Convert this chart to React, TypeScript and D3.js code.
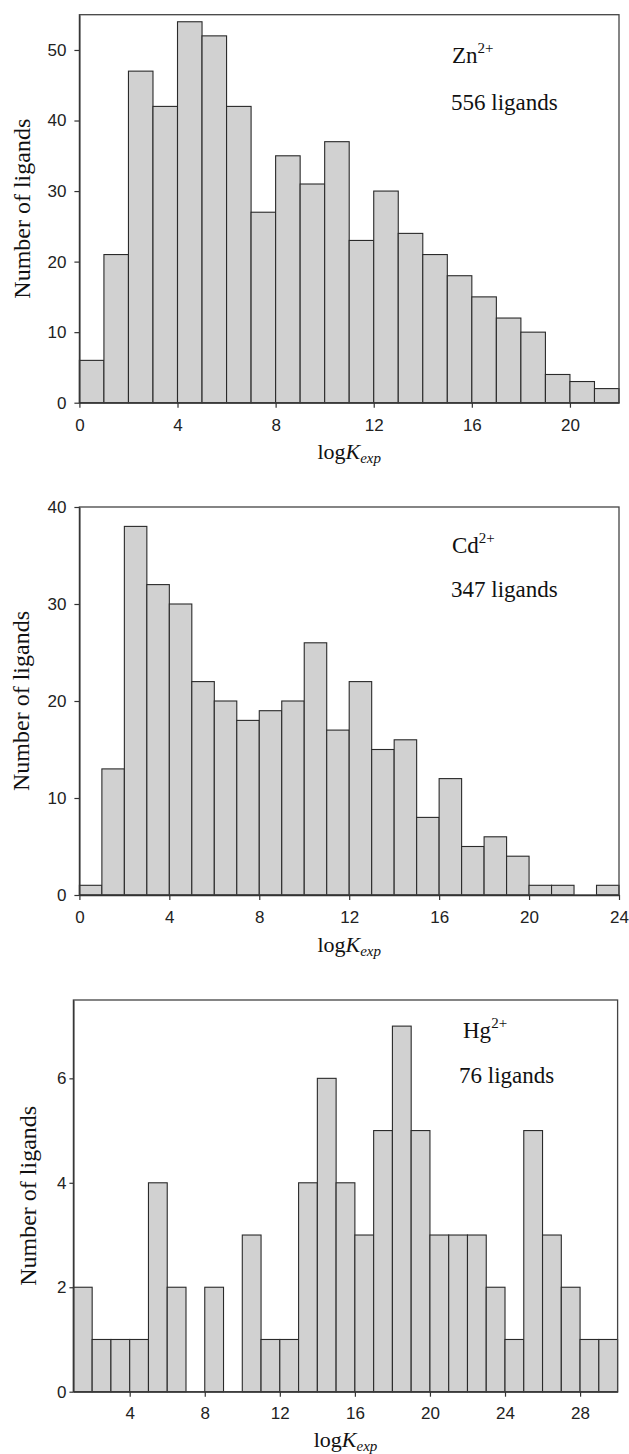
import React, { useEffect, useRef } from "react";
import * as d3 from "d3";

// Histogram counts per unit bin of logK_exp
const znCounts = [6, 21, 47, 42, 54, 52, 42, 27, 35, 31, 37, 23, 30, 24, 21, 18, 15, 12, 10, 4, 3, 2];
const cdCounts = [1, 13, 38, 32, 30, 22, 20, 18, 19, 20, 26, 17, 22, 15, 16, 8, 12, 5, 6, 4, 1, 1, 0, 1];
const hgCounts = [2, 1, 1, 1, 4, 2, 0, 2, 0, 3, 1, 1, 4, 6, 4, 3, 5, 7, 5, 3, 3, 3, 2, 1, 5, 3, 2, 1, 1];

const znXTicks = [0, 4, 8, 12, 16, 20];
const cdXTicks = [0, 4, 8, 12, 16, 20, 24];
const hgXTicks = [4, 8, 12, 16, 20, 24, 28];
const znYTicks = [0, 10, 20, 30, 40, 50];
const cdYTicks = [0, 10, 20, 30, 40];
const hgYTicks = [0, 2, 4, 6];

const ions = ["Zn", "Cd", "Hg"];
const ligandLabels = ["556 ligands", "347 ligands", "76 ligands"];

const W = 629;
const H = 1454;

interface Layout {
  left: number; right: number; top: number; bottom: number;
  xDomain: [number, number]; yDomain: [number, number]; binStart: number;
  ionX: number; ionY: number; ligX: number; ligY: number; ytitleX: number; xtitleY: number;
  yPad: number; xPad: number;
}

const layouts: Layout[] = [
  { left: 79.4, right: 619, top: 14.7, bottom: 402.7, xDomain: [0, 22], yDomain: [0, 55], binStart: 0,
    ionX: 452, ionY: 63, ligX: 451, ligY: 110, ytitleX: 30, xtitleY: 459, yPad: 8, xPad: 11 },
  { left: 79.4, right: 619, top: 507, bottom: 895, xDomain: [0, 24], yDomain: [0, 40], binStart: 0,
    ionX: 452, ionY: 553, ligX: 451, ligY: 597, ytitleX: 29, xtitleY: 952, yPad: 8, xPad: 11 },
  { left: 73.4, right: 617.6, top: 1000, bottom: 1391.7, xDomain: [1, 30], yDomain: [0, 7.5], binStart: 1,
    ionX: 463, ionY: 1038, ligX: 459, ligY: 1083, ytitleX: 36, xtitleY: 1447, yPad: 3, xPad: 10 },
];

const countsList = [znCounts, cdCounts, hgCounts];
const xTicksList = [znXTicks, cdXTicks, hgXTicks];
const yTicksList = [znYTicks, cdYTicks, hgYTicks];

export default function App() {
  const ref = useRef<SVGSVGElement | null>(null);

  useEffect(() => {
    const svg = d3.select(ref.current);
    svg.selectAll("*").remove();
    const serif = "'Liberation Serif', 'Times New Roman', serif";
    const sans = "'Liberation Sans', Arial, sans-serif";

    layouts.forEach((L, i) => {
      const counts = countsList[i];
      const x = d3.scaleLinear().domain(L.xDomain).range([L.left, L.right]);
      const y = d3.scaleLinear().domain(L.yDomain).range([L.bottom, L.top]);
      const g = svg.append("g");

      const bins = counts.map((c, k) => ({ x0: L.binStart + k, x1: L.binStart + k + 1, c }));
      g.selectAll("rect.bar")
        .data(bins.filter((b) => b.c > 0))
        .enter()
        .append("rect")
        .attr("class", "bar")
        .attr("x", (b) => x(b.x0))
        .attr("y", (b) => y(b.c))
        .attr("width", (b) => x(b.x1) - x(b.x0))
        .attr("height", (b) => y(0) - y(b.c))
        .attr("fill", "#d1d1d1")
        .attr("stroke", "#2a2a2a")
        .attr("stroke-width", 1.1);

      // frame
      g.append("rect")
        .attr("x", L.left)
        .attr("y", L.top)
        .attr("width", L.right - L.left)
        .attr("height", L.bottom - L.top)
        .attr("fill", "none")
        .attr("stroke", "#444")
        .attr("stroke-width", 1.3);

      const yAxis = d3.axisLeft(y).tickValues(yTicksList[i]).tickSize(i === 2 ? 4 : 5).tickSizeOuter(0).tickPadding(L.yPad).tickFormat(d3.format("d"));
      const ya = g.append("g").attr("transform", `translate(${L.left},0)`).call(yAxis);
      const xAxis = d3.axisBottom(x).tickValues(xTicksList[i]).tickSize(5).tickSizeOuter(0).tickPadding(L.xPad).tickFormat(d3.format("d"));
      const xa = g.append("g").attr("transform", `translate(0,${L.bottom})`).call(xAxis);
      [ya, xa].forEach((a) => {
        a.select(".domain").attr("stroke", "#333").attr("stroke-width", 1.3);
        a.selectAll(".tick line").attr("stroke", "#333").attr("stroke-width", 1.2);
        a.selectAll(".tick text").attr("font-family", sans).attr("font-size", 17).attr("fill", "#222");
      });

      // annotations
      const ion = g.append("text").attr("x", L.ionX).attr("y", L.ionY)
        .attr("font-family", serif).attr("font-size", 23).attr("fill", "#111");
      ion.append("tspan").text(ions[i]);
      ion.append("tspan").attr("dy", -10).attr("font-size", 15).text("2+");

      g.append("text").attr("x", L.ligX).attr("y", L.ligY)
        .attr("font-family", serif).attr("font-size", 23).attr("fill", "#111")
        .text(ligandLabels[i]);

      // y title
      g.append("text")
        .attr("transform", `translate(${L.ytitleX},${(L.top + L.bottom) / 2}) rotate(-90)`)
        .attr("text-anchor", "middle")
        .attr("font-family", serif).attr("font-size", 24).attr("fill", "#111")
        .text("Number of ligands");

      // x title
      const xt = g.append("text")
        .attr("x", (L.left + L.right) / 2).attr("y", L.xtitleY)
        .attr("text-anchor", "middle")
        .attr("font-family", serif).attr("font-size", 22).attr("fill", "#111");
      xt.append("tspan").text("log");
      xt.append("tspan").attr("font-style", "italic").text("K");
      xt.append("tspan").attr("font-style", "italic").attr("font-size", 15).attr("dy", 4).text("exp");
    });
  }, []);

  return (
    <svg ref={ref} width={W} height={H} style={{ position: "absolute", left: 0, top: 0, background: "#fff" }} />
  );
}
